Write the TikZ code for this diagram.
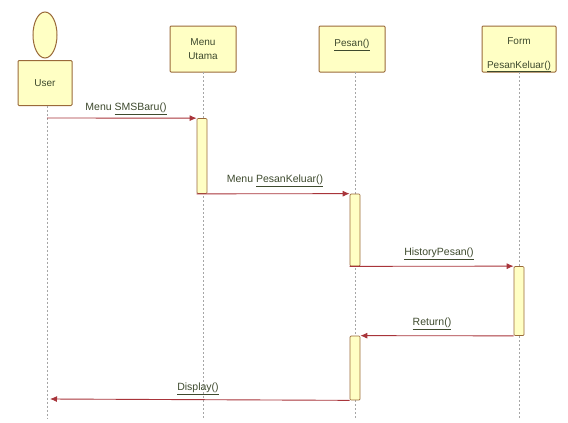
\documentclass[tikz,border=0pt]{standalone}
\usepackage{fontspec}
\setmainfont{Liberation Sans}
\usetikzlibrary{arrows.meta,shapes.geometric}
\definecolor{boxfill}{HTML}{FFFFC4}
\definecolor{boxline}{HTML}{9A6A3A}
\definecolor{msgline}{HTML}{A8343A}
\definecolor{txt}{HTML}{3E4A2E}
\tikzset{
  objbox/.style={draw=boxline, fill=boxfill, line width=1pt, rounded corners=1pt,
    minimum width=66pt, minimum height=46pt, align=center, text=txt,
    font=\fontsize{10}{14}\selectfont},
  actbox/.style={draw=boxline, fill=boxfill, line width=0.7pt, rounded corners=1pt,
    minimum width=10pt, inner sep=0pt},
  lifeline/.style={draw=gray!70, line width=0.7pt, dash pattern=on 2pt off 2pt},
  msg/.style={draw=msgline, line width=0.9pt, -{Latex[length=7pt,width=6pt]}},
  msglabel/.style={text=txt, font=\fontsize{10.5}{12}\selectfont, inner sep=1pt, anchor=south},
}
\begin{document}
\begin{tikzpicture}[x=1pt,y=-1pt]
\useasboundingbox[fill=white] (0,0) rectangle (568,423);
% actor
\node[ellipse, draw=boxline, fill=boxfill, line width=1pt, minimum width=24pt, minimum height=46pt] (head) at (45,35) {};
\node[objbox, minimum width=54pt, minimum height=45pt] (user) at (45,83) {User};
% objects
\node[objbox] (menu) at (203,49) {Menu\\Utama};
\node[objbox, text depth=12pt] (pesan) at (352,49) {\underline{Pesan()}};
\node[objbox, minimum width=74pt] (form) at (519,49) {};
\node[text=txt, font=\fontsize{10}{12}\selectfont, inner sep=0pt] (formT) at (519,41) {Form};
\node[text=txt, font=\fontsize{10}{12}\selectfont, inner sep=0pt, anchor=base] (formN) at (519,68) {\underline{PesanKeluar()}};
% lifeline ends
\coordinate (userEnd) at (47,418);
\coordinate (menuEnd) at (203,418);
\coordinate (pesanEnd) at (355,418);
\coordinate (formEnd) at (519,418);
\draw[lifeline] (47,105.5) -- (userEnd);
\draw[lifeline] (203,72) -- (menuEnd);
\draw[lifeline] (355,72) -- (pesanEnd);
\draw[lifeline] (519,72) -- (formEnd);
% activations
\node[actbox, minimum height=75pt] (a1) at (202,156) {};
\node[actbox, minimum height=72pt] (a2) at (355,230) {};
\node[actbox, minimum height=69pt] (a3) at (519,301) {};
\node[actbox, minimum height=64pt] (a4) at (355,368) {};
% messages
\coordinate (m1s) at (47,118);
\coordinate (m5e) at (50,399);
\draw[msg] (m1s) -- (a1.north west);
\draw[msg] (a1.south west) -- (a2.north west);
\draw[msg] (a2.south west) -- (a3.north west);
\draw[msg] (a3.south west) -- (a4.north east);
\draw[msg] (a4.south west) -- (m5e);
% message labels
\node[msglabel] (l1) at (126,116) {Menu \underline{SMSBaru()}};
\node[msglabel] (l2) at (275,188) {Menu \underline{PesanKeluar()}};
\node[msglabel] (l3) at (439,261) {\underline{HistoryPesan()}};
\node[msglabel] (l4) at (432,331) {\underline{Return()}};
\node[msglabel] (l5) at (198,396) {\underline{Display()}};
\end{tikzpicture}
\end{document}
